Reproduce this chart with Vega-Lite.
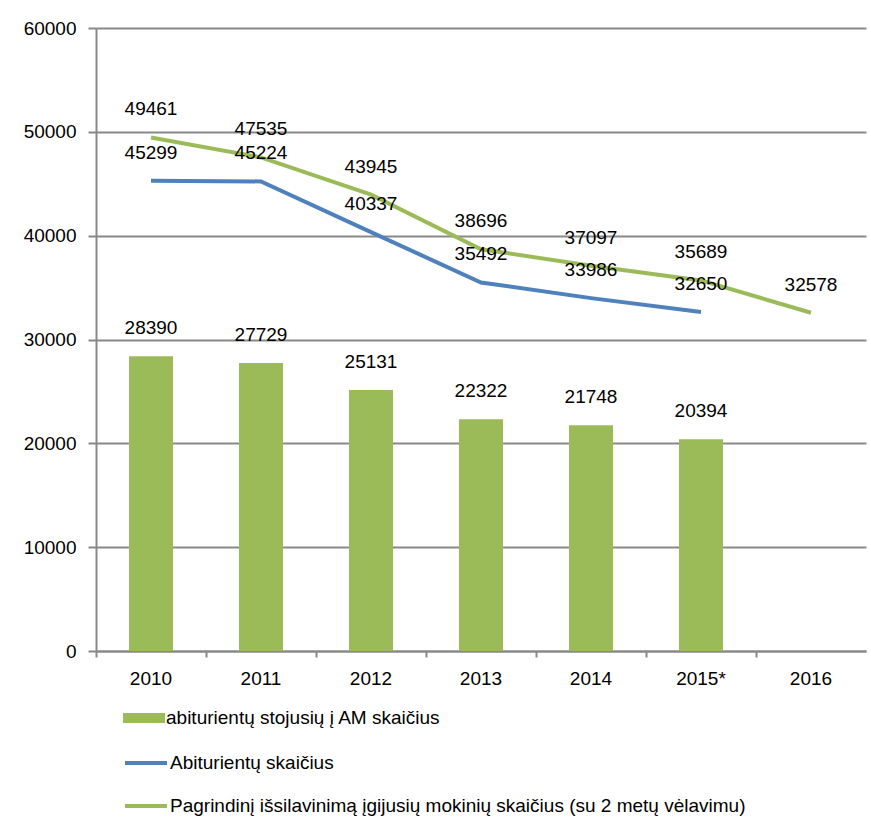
{
  "$schema": "https://vega.github.io/schema/vega-lite/v6.json",
  "autosize": {"type": "none"},
  "width": 770,
  "height": 623,
  "padding": {"left": 96, "top": 28, "right": 5, "bottom": 183},
  "background": "white",
  "config": {
    "font": "Liberation Sans",
    "view": {"stroke": null},
    "axis": {"labelFont": "Liberation Sans", "labelFontSize": 19, "labelColor": "#000000", "domainColor": "#898989", "tickColor": "#898989", "gridColor": "#898989", "domainWidth": 2, "tickWidth": 2, "gridWidth": 2, "title": null},
    "legend": {"labelFont": "Liberation Sans", "labelFontSize": 19, "labelColor": "#000000", "padding": 0, "title": null, "labelLimit": 800}
  },
  "data": {
    "values": [
      {"year": "2010", "series": "bar", "value": 28390},
      {"year": "2011", "series": "bar", "value": 27729},
      {"year": "2012", "series": "bar", "value": 25131},
      {"year": "2013", "series": "bar", "value": 22322},
      {"year": "2014", "series": "bar", "value": 21748},
      {"year": "2015*", "series": "bar", "value": 20394},
      {"year": "2010", "series": "Abiturientų skaičius", "value": 45299},
      {"year": "2011", "series": "Abiturientų skaičius", "value": 45224},
      {"year": "2012", "series": "Abiturientų skaičius", "value": 40337},
      {"year": "2013", "series": "Abiturientų skaičius", "value": 35492},
      {"year": "2014", "series": "Abiturientų skaičius", "value": 33986},
      {"year": "2015*", "series": "Abiturientų skaičius", "value": 32650},
      {"year": "2010", "series": "Pagrindinį išsilavinimą įgijusių mokinių skaičius (su 2 metų vėlavimu)", "value": 49461},
      {"year": "2011", "series": "Pagrindinį išsilavinimą įgijusių mokinių skaičius (su 2 metų vėlavimu)", "value": 47535},
      {"year": "2012", "series": "Pagrindinį išsilavinimą įgijusių mokinių skaičius (su 2 metų vėlavimu)", "value": 43945},
      {"year": "2013", "series": "Pagrindinį išsilavinimą įgijusių mokinių skaičius (su 2 metų vėlavimu)", "value": 38696},
      {"year": "2014", "series": "Pagrindinį išsilavinimą įgijusių mokinių skaičius (su 2 metų vėlavimu)", "value": 37097},
      {"year": "2015*", "series": "Pagrindinį išsilavinimą įgijusių mokinių skaičius (su 2 metų vėlavimu)", "value": 35689},
      {"year": "2016", "series": "Pagrindinį išsilavinimą įgijusių mokinių skaičius (su 2 metų vėlavimu)", "value": 32578}
    ]
  },
  "encoding": {
    "x": {
      "field": "year", "type": "nominal",
      "scale": {"domain": ["2010", "2011", "2012", "2013", "2014", "2015*", "2016"], "paddingInner": 0, "paddingOuter": 0},
      "axis": {"labelAngle": 0, "bandPosition": 0, "tickSize": 6, "labelPadding": 12, "grid": false}
    },
    "y": {
      "field": "value", "type": "quantitative",
      "scale": {"domain": [0, 60000], "nice": false},
      "axis": {"values": [0, 10000, 20000, 30000, 40000, 50000, 60000], "tickSize": 8, "labelPadding": 12, "grid": true, "format": "d"}
    }
  },
  "layer": [
    {
      "transform": [{"filter": "datum.series === 'bar'"}],
      "mark": {"type": "bar", "width": {"band": 0.4}},
      "encoding": {
        "fill": {
          "datum": "abiturientų stojusių į AM skaičius",
          "scale": {"domain": ["abiturientų stojusių į AM skaičius"], "range": ["#9BBB59"]},
          "legend": {"orient": "none", "legendX": 27, "legendY": 669, "symbolType": "M-1,-0.24H1V0.24H-1Z", "symbolSize": 1764, "symbolOpacity": 1, "symbolStrokeWidth": 0, "labelOffset": 1}
        }
      }
    },
    {
      "transform": [{"filter": "datum.series !== 'bar'"}],
      "mark": {"type": "line", "strokeWidth": 4},
      "encoding": {
        "stroke": {
          "field": "series", "type": "nominal",
          "scale": {"domain": ["Abiturientų skaičius", "Pagrindinį išsilavinimą įgijusių mokinių skaičius (su 2 metų vėlavimu)"], "range": ["#4F81BD", "#9BBB59"]},
          "legend": {"orient": "none", "legendX": 27, "legendY": 712, "symbolType": "stroke", "symbolSize": 1764, "symbolStrokeWidth": 4, "rowPadding": 10, "labelOffset": 1}
        }
      }
    },
    {
      "mark": {"type": "text", "dy": -28, "baseline": "middle", "fontSize": 19, "font": "Liberation Sans", "color": "#000000"},
      "encoding": {"text": {"field": "value", "type": "quantitative", "format": "d"}}
    }
  ]
}
